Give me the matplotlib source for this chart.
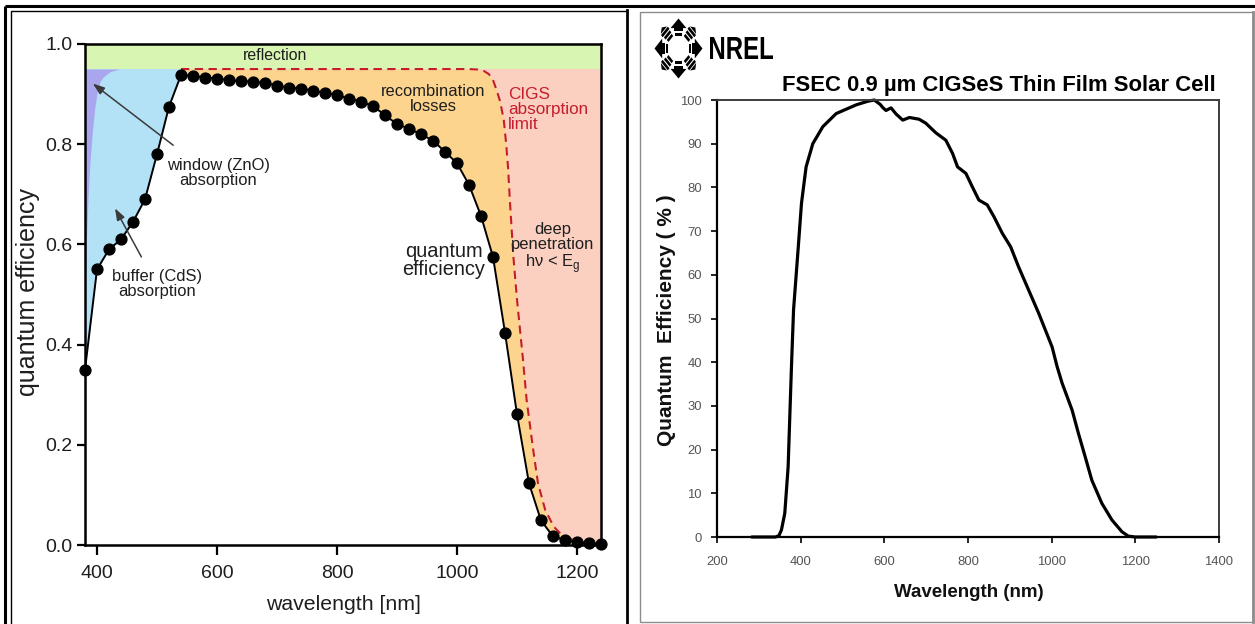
import numpy as np
import matplotlib
matplotlib.use("Agg")
import matplotlib.pyplot as plt
from matplotlib import font_manager
from matplotlib.patches import Polygon, Rectangle, PathPatch
from matplotlib.textpath import TextPath
from matplotlib.font_manager import FontProperties
from matplotlib.transforms import Affine2D
from matplotlib.ticker import FormatStrFormatter

# ---------------- data: loss analysis of a CIGS cell ----------------
qe_nm = [380, 400, 420, 440, 460, 480, 500, 520, 540, 560, 580, 600, 620, 640,
         660, 680, 700, 720, 740, 760, 780, 800, 820, 840, 860, 880, 900, 920,
         940, 960, 980, 1000, 1020, 1040, 1060, 1080, 1100, 1120, 1140, 1160,
         1180, 1200, 1220, 1240]
qe_val = [0.35, 0.55, 0.59, 0.61, 0.645, 0.69, 0.78, 0.875, 0.938, 0.936, 0.933,
          0.931, 0.928, 0.926, 0.925, 0.922, 0.917, 0.913, 0.911, 0.907, 0.902,
          0.898, 0.891, 0.885, 0.876, 0.858, 0.840, 0.831, 0.820, 0.807, 0.785,
          0.762, 0.719, 0.657, 0.575, 0.424, 0.261, 0.123, 0.049, 0.017, 0.010,
          0.005, 0.003, 0.002]

# CIGS absorption limit (dashed)
limit_nm = [540, 1020, 1035, 1045, 1053, 1060, 1066, 1072, 1078, 1082, 1085,
            1088, 1094, 1100, 1105, 1110, 1116, 1127, 1135, 1147, 1161, 1177,
            1200, 1220, 1240]
limit_val = [0.95, 0.95, 0.949, 0.946, 0.940, 0.928, 0.908, 0.885, 0.848, 0.80,
             0.755, 0.69, 0.575, 0.49, 0.43, 0.37, 0.29, 0.19, 0.123, 0.07, 0.037,
             0.017, 0.008, 0.004, 0.003]

# edge of the window (ZnO) absorption wedge
window_nm = [380, 382, 385, 388, 392, 396, 400, 405, 410, 422, 438]
window_val = [0.50, 0.60, 0.69, 0.76, 0.822, 0.87, 0.902, 0.925, 0.934, 0.945, 0.95]

reflection_level = 0.95

# ---------------- data: FSEC 0.9 um CIGSeS cell ----------------
fsec_nm = [283, 300, 320, 340, 348, 354, 362, 370, 378, 383, 394, 402, 413, 429,
           453, 485, 533, 560, 576, 590, 596, 604, 616, 628, 644, 660, 683, 699,
           723, 747, 763, 775, 795, 810, 826, 846, 862, 882, 902, 921, 945, 969,
           1001, 1013, 1025, 1049, 1064, 1080, 1096, 1120, 1144, 1168, 1183,
           1200, 1250]
fsec_qe = [0, 0, 0, 0, 0.3, 1.6, 5.4, 16, 39, 52, 66, 76.4, 84.7, 90, 93.9, 96.9,
           98.9, 99.7, 100, 99.0, 98.3, 97.6, 98.2, 96.8, 95.4, 96.0, 95.6, 94.7,
           92.5, 90.8, 87.8, 84.7, 83.2, 80.2, 77.1, 76.0, 73.3, 69.5, 66.4, 61.8,
           56.5, 51.2, 43.5, 39.0, 35.2, 29.0, 23.7, 18.4, 13.0, 7.7, 3.9, 1.2,
           0.2, 0, 0]

left_xticks = [400, 600, 800, 1000, 1200]
left_yticks = [0.0, 0.2, 0.4, 0.6, 0.8, 1.0]
right_xticks = [200, 400, 600, 800, 1000, 1200, 1400]
right_yticks = [0, 10, 20, 30, 40, 50, 60, 70, 80, 90, 100]

# ---------------- fonts ----------------
names = {f.name for f in font_manager.fontManager.ttflist}
REG = "Liberation Sans"
if "Liberation Sans Narrow" in names:
    NAR, k = "Liberation Sans Narrow", 1.0
else:
    NAR, k = REG, 0.85
plt.rcParams["font.family"] = [REG, "DejaVu Sans"]
plt.rcParams["mathtext.fontset"] = "custom"
plt.rcParams["mathtext.rm"] = NAR

W, H = 1255, 624
fig = plt.figure(figsize=(W / 100, H / 100), dpi=100)
fig.patch.set_facecolor("white")

GREEN = "#d9f5b2"
BLUE = "#b3e1f6"
PURPLE = "#aaa6ee"
ORANGE = "#fcd48e"
SALMON = "#fcd0c0"
RED = "#c41e2e"
INK = "#1e1e1e"

# ---------------- left panel ----------------
axL = fig.add_axes([85 / W, 1 - 545 / H, 516 / W, 501 / H])
axL.set_xlim(qe_nm[0], qe_nm[-1])
axL.set_ylim(0, 1.0)
span = [qe_nm[0], qe_nm[-1]]
axL.fill_between(span, reflection_level, 1.0, color=GREEN, lw=0, zorder=0)
axL.fill_between(span, 0, reflection_level, color=SALMON, lw=0, zorder=0)
axL.fill_between(limit_nm, 0, limit_val, color=ORANGE, lw=0, zorder=1)
axL.fill_between([qe_nm[0], limit_nm[0]], 0, reflection_level, color=BLUE, lw=0, zorder=1)
axL.fill_betweenx(window_val, qe_nm[0], window_nm, color=PURPLE, lw=0, zorder=2)
axL.fill_between(qe_nm, 0, qe_val, color="white", lw=0, zorder=3)
axL.plot(limit_nm, limit_val, color=RED, lw=1.5, ls=(0, (4, 2.6)), zorder=4)
axL.plot(qe_nm, qe_val, color="black", lw=1.4, marker="o", ms=7.8,
         zorder=5, clip_on=False)

for s in axL.spines.values():
    s.set_linewidth(1.8)
    s.set_color("black")
    s.set_zorder(6)
axL.set_xticks(left_xticks)
axL.set_yticks(left_yticks)
axL.yaxis.set_major_formatter(FormatStrFormatter("%.1f"))
axL.tick_params(axis="y", direction="out", length=6, width=1.6, pad=3,
                labelsize=14, labelcolor=INK)
axL.tick_params(axis="x", direction="out", length=7.5, width=1.6, pad=7,
                labelsize=14, labelcolor=INK)


def ann(x, y, s, size, spacing=1.0, **kw):
    kw.setdefault("color", INK)
    kw.setdefault("ha", "center")
    kw.setdefault("va", "center")
    axL.text(x, y, s, fontsize=size * k, family=[NAR, "DejaVu Sans"],
             linespacing=spacing, multialignment=kw["ha"], zorder=7, **kw)


ann(697, 0.978, "reflection", 13.5)
ann(602, 0.743, "window (ZnO)\nabsorption", 14)
ann(500, 0.521, "buffer (CdS)\nabsorption", 14)
ann(960, 0.891, "recombination\nlosses", 14)
ann(1085, 0.869, "CIGS\nabsorption\nlimit", 14.5, ha="left", color=RED)
ann(978, 0.568, "quantum\nefficiency", 17, spacing=0.95)
ann(1159, 0.591, "deep\npenetration\nh\u03bd < E$_\\mathregular{g}$", 14)

arrow = dict(arrowstyle="-|>,head_length=0.7,head_width=0.25", color="#3a3a3a",
             lw=1.1, shrinkA=0, shrinkB=0)
axL.annotate("", xy=(393, 0.921), xytext=(527, 0.798), arrowprops=arrow, zorder=7)
axL.annotate("", xy=(430, 0.672), xytext=(474, 0.575), arrowprops=arrow, zorder=7)

# ---------------- right panel ----------------
axR = fig.add_axes([717 / W, 1 - 537 / H, 502 / W, 437 / H])
axR.set_xlim(200, 1400)
axR.set_ylim(0, 100)
axR.plot(fsec_nm, fsec_qe, color="black", lw=2.3, solid_joinstyle="round",
         solid_capstyle="round", clip_on=False)
axR.set_xticks(right_xticks)
axR.set_yticks(right_yticks)
for side in ("left", "bottom"):
    axR.spines[side].set_linewidth(1.6)
    axR.spines[side].set_color("black")
for side in ("top", "right"):
    axR.spines[side].set_linewidth(1.4)
    axR.spines[side].set_color("#3c3c3c")
axR.tick_params(axis="y", direction="out", length=4, width=1.2, pad=7,
                labelsize=11 * k, labelcolor="#555555")
axR.tick_params(axis="x", direction="out", length=4, width=1.2, pad=10,
                labelsize=11 * k, labelcolor="#555555")
for lab in axR.get_xticklabels() + axR.get_yticklabels():
    lab.set_family([NAR, "DejaVu Sans"])

# ---------------- overlay: frames, labels, logo ----------------
ov = fig.add_axes([0, 0, 1, 1], zorder=10)
ov.set_xlim(0, W)
ov.set_ylim(H, 0)
ov.axis("off")
ov.patch.set_alpha(0)

ov.plot([5, W], [6, 6], color="black", lw=2.2, solid_capstyle="butt")
ov.plot([5, 5], [6, H], color="black", lw=2.2, solid_capstyle="butt")
ov.plot([10.5, 10.5, 626.5], [H, 10.5, 10.5], color="black", lw=1.0)
ov.plot([626.5, 626.5], [10, H], color="black", lw=2.0)
ov.add_patch(Rectangle((640, 12), 613, 610, fill=False, ec="#8c8c8c", lw=1.0))
ov.plot([1253, 1253], [12, 622], color="#8c8c8c", lw=2.0)

ov.text(28, 292, "quantum efficiency", rotation=90, ha="center", va="center",
        fontsize=18, color=INK, family=[REG, "DejaVu Sans"])
ov.text(343, 610, "wavelength [nm]", ha="center", va="baseline",
        fontsize=18 * k, color=INK, family=[NAR, "DejaVu Sans"])

ov.text(999, 91, "FSEC 0.9 \u00b5m CIGSeS Thin Film Solar Cell", ha="center",
        va="baseline", fontsize=19.4 * 0.82 if k != 1.0 else 19.4,
        fontweight="bold", color="black", family=[NAR, "DejaVu Sans"])
ov.text(667, 320, "Quantum  Efficiency ( % )", rotation=90, ha="center",
        va="center", fontsize=15, fontweight="bold", color="#111111",
        family=[REG, "DejaVu Sans"])
ov.text(969, 597, "Wavelength (nm)", ha="center", va="baseline",
        fontsize=16.5 * 0.82 if k != 1.0 else 16.5, fontweight="bold",
        color="#111111", family=[NAR, "DejaVu Sans"])

# NREL emblem: eight striped arrows around a white hub
cx, cy, sx, sy = 678.5, 48.5, 24.0, 30.0


def to_px(pts, ang):
    c, s = np.cos(ang), np.sin(ang)
    return [(cx + sx * (r * c - t * s), cy - sy * (r * s + t * c)) for r, t in pts]


for i in range(8):
    ang = np.deg2rad(90 - 45 * i)
    if i % 2 == 0:
        bars = [(0.42, 0.53, 0.15), (0.57, 0.67, 0.17)]
        tri = [(0.68, -0.33), (1.0, 0.0), (0.68, 0.33)]
    else:
        bars = [(0.45, 0.55, 0.14), (0.59, 0.69, 0.17), (0.73, 0.83, 0.20)]
        tri = [(0.86, -0.18), (0.99, 0.0), (0.86, 0.18)]
    ov.add_patch(Polygon(to_px(tri, ang), closed=True, fc="black", ec="none"))
    for r0, r1, hw in bars:
        quad = [(r0, -hw), (r1, -hw), (r1, hw), (r0, hw)]
        ov.add_patch(Polygon(to_px(quad, ang), closed=True, fc="black", ec="none"))

fp = FontProperties(family=NAR, weight="bold")
tp = TextPath((0, 0), "NREL", size=10, prop=fp)
ext = tp.get_extents()
scale_x = (773 - 710) / ext.width
scale_y = (59 - 37) / ext.height
tr = Affine2D().translate(-ext.x0, -ext.y0).scale(scale_x, -scale_y).translate(710, 59)
ov.add_patch(PathPatch(tr.transform_path(tp), fc="black", ec="none"))

fig.savefig("out.png", dpi=100, facecolor="white")
